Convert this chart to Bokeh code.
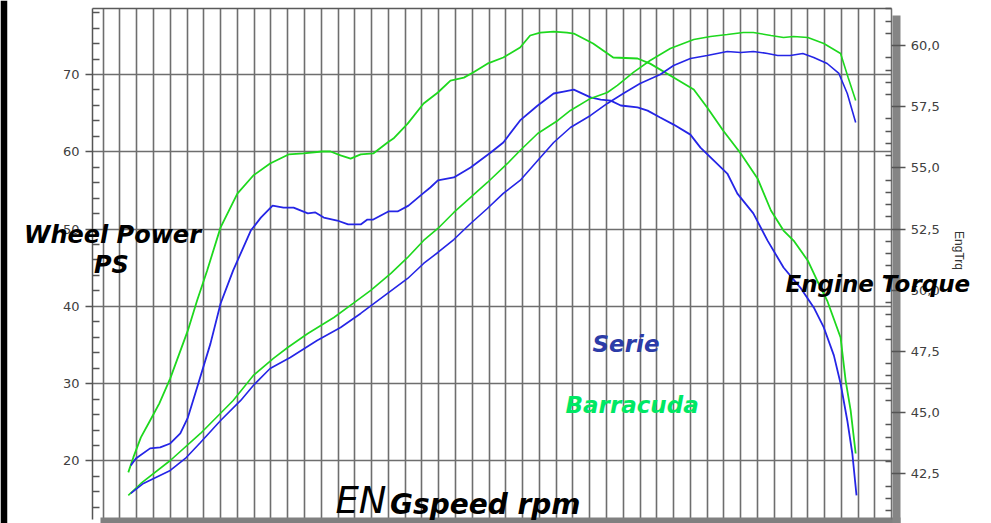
from bokeh.plotting import figure
from bokeh.models import (Range1d, LinearAxis, FixedTicker, Label,
                          CustomJSTickFormatter)
from bokeh.embed import file_html
from bokeh.resources import INLINE

# ---------------- data ----------------
# Engine torque, Barracuda (green) - right axis
trq_barr_rpm = [1700, 1760, 1850, 1960, 2070, 2200, 2410, 2520, 2640, 2800, 3000, 3190, 3390, 3610, 3790,
                4010, 4110, 4230, 4350, 4470, 4620, 4790, 4860, 5030, 5220, 5390, 5540, 5700, 5810, 5980,
                6170, 6370, 6490, 6610, 6770, 6930, 7010, 7240, 7360, 7480, 7770, 7920, 8200, 8440, 8600,
                8790, 9000, 9200, 9360, 9510, 9630, 9800, 9910, 10030, 10190, 10250, 10310, 10370]
trq_barr = [42.56, 43.17, 43.99, 44.68, 45.38, 46.40, 48.36, 49.58, 50.81, 52.57, 53.95, 54.69, 55.18, 55.55, 55.59,
            55.67, 55.67, 55.51, 55.38, 55.55, 55.59, 56.04, 56.20, 56.81, 57.63, 58.08, 58.57, 58.69, 58.90, 59.26,
            59.51, 59.92, 60.41, 60.53, 60.57, 60.53, 60.49, 60.08, 59.80, 59.51, 59.47, 59.26, 58.69, 58.20, 57.47,
            56.53, 55.59, 54.57, 53.26, 52.44, 52.03, 51.21, 50.40, 49.58, 48.07, 46.32, 45.09, 43.33]

# Engine torque, Serie (blue) - right axis
trq_serie_rpm = [1730, 1790, 1960, 2080, 2200, 2320, 2410, 2520, 2680, 2800, 2950, 3160, 3280, 3420, 3550,
                 3670, 3840, 3930, 4030, 4190, 4320, 4470, 4550, 4620, 4800, 4910, 5040, 5210, 5300, 5390,
                 5580, 5780, 6020, 6170, 6370, 6580, 6770, 6890, 7010, 7210, 7330, 7450, 7570, 7770, 7890,
                 8040, 8200, 8400, 8520, 8680, 8840, 8960, 9150, 9320, 9510, 9710, 9870, 9990, 10110, 10190,
                 10270, 10330, 10380]
trq_serie = [42.84, 43.13, 43.54, 43.58, 43.74, 44.15, 44.80, 46.03, 47.83, 49.46, 50.81, 52.44, 52.97, 53.46, 53.38,
             53.38, 53.14, 53.18, 52.97, 52.85, 52.69, 52.69, 52.89, 52.89, 53.22, 53.22, 53.46, 53.95, 54.20, 54.49,
             54.61, 55.02, 55.63, 56.04, 56.94, 57.55, 58.04, 58.12, 58.20, 57.88, 57.79, 57.75, 57.55, 57.47, 57.34,
             57.06, 56.77, 56.36, 55.83, 55.30, 54.77, 53.95, 53.14, 52.03, 50.93, 50.11, 49.30, 48.48, 47.34, 46.19,
             44.68, 43.33, 41.62]

# Wheel power, Barracuda (green) - left axis
pwr_barr_rpm = [1700, 1850, 2200, 2560, 2950, 3190, 3430, 3600, 3840, 4150, 4380, 4590, 4830, 5030, 5220,
                5390, 5580, 5780, 5980, 6220, 6370, 6580, 6820, 6970, 7210, 7410, 7530, 7720, 7920, 8160,
                8440, 8640, 8840, 9030, 9150, 9360, 9510, 9630, 9800, 9990, 10190, 10280, 10370]
pwr_barr = [15.54, 17.09, 20.06, 23.56, 27.83, 31.06, 33.26, 34.68, 36.49, 38.56, 40.38, 42.06, 44.26, 46.33, 48.53,
            50.08, 52.15, 54.09, 56.03, 58.49, 60.17, 62.37, 64.05, 65.34, 66.90, 67.67, 68.58, 70.26, 71.81, 73.36,
            74.53, 74.92, 75.17, 75.43, 75.43, 75.05, 74.79, 74.92, 74.79, 74.01, 72.72, 69.61, 66.64]

# Wheel power, Serie (blue) - left axis
pwr_serie_rpm = [1730, 1880, 2200, 2380, 2560, 2800, 3040, 3190, 3390, 3630, 3950, 4230, 4470, 4790, 5030,
                 5220, 5390, 5580, 5780, 5980, 6170, 6370, 6580, 6770, 6970, 7210, 7410, 7600, 7800, 8040,
                 8200, 8400, 8600, 8840, 9000, 9150, 9320, 9440, 9590, 9740, 9870, 10030, 10170, 10270, 10370]
pwr_serie = [15.80, 17.09, 18.77, 20.32, 22.39, 25.24, 27.83, 29.77, 31.97, 33.39, 35.59, 37.27, 39.08, 41.67, 43.61,
             45.55, 46.97, 48.65, 50.72, 52.66, 54.61, 56.29, 58.87, 61.20, 63.14, 64.70, 66.25, 67.54, 68.84, 70.00,
             71.16, 72.07, 72.46, 72.98, 72.85, 72.98, 72.72, 72.46, 72.46, 72.72, 72.20, 71.42, 70.13, 67.54, 63.79]

power_ticks = [20, 30, 40, 50, 60, 70]
power_minor = [14, 16, 18, 22, 24, 26, 28, 32, 34, 36, 38, 42, 44, 46, 48, 52, 54, 56, 58,
               62, 64, 66, 68, 72, 74, 76, 78]
torque_ticks = [42.5, 45.0, 47.5, 50.0, 52.5, 55.0, 57.5, 60.0]
torque_minor = [41.0, 41.5, 42.0, 43.0, 43.5, 44.0, 44.5, 45.5, 46.0, 46.5, 47.0, 48.0, 48.5, 49.0, 49.5,
                50.5, 51.0, 51.5, 52.0, 53.0, 53.5, 54.0, 54.5, 55.5, 56.0, 56.5, 57.0, 58.0, 58.5, 59.0,
                59.5, 60.5, 61.0, 61.5]
rpm_grid = list(range(1400, 10601, 200))

GREEN = "#1ed81e"
BLUE = "#2525e6"
FONT = "DejaVu Sans"

# chart box (axis limits)
RPM_MIN, RPM_MAX = 1273, 10800
PS_MIN, PS_MAX = 12.43, 78.54
NM_MIN, NM_MAX = 40.64, 61.51

# ---------------- figure ----------------
p = figure(width=991, height=523, output_backend="svg", toolbar_location=None,
           x_range=Range1d(260, 11989), y_range=Range1d(11.91, 79.57),
           min_border_left=7, min_border_right=0, min_border_top=0, min_border_bottom=0,
           background_fill_color="white", border_fill_color="black")
p.outline_line_color = None
p.extra_y_ranges = {"trq": Range1d(40.47, 61.84)}

# grids limited to the chart box
p.xgrid.ticker = FixedTicker(ticks=rpm_grid)
p.xgrid.cross_bounds = (PS_MIN, PS_MAX)
p.ygrid.ticker = FixedTicker(ticks=power_ticks)
p.ygrid.cross_bounds = (RPM_MIN, RPM_MAX)
for g in (p.xgrid, p.ygrid):
    g.grid_line_color = "#6e6e6e"
    g.grid_line_width = 1.6

# bottom rule (thick grey)
xa = p.xaxis[0]
xa.ticker = FixedTicker(ticks=[])
xa.fixed_location = 12.30
xa.bounds = (1368, 10904)
xa.axis_line_color = "#808080"
xa.axis_line_width = 6

# top rule
top = LinearAxis(ticker=FixedTicker(ticks=[]), fixed_location=PS_MAX, bounds=(RPM_MIN, RPM_MAX),
                 axis_line_color="#5a5a5a", axis_line_width=1.5)
p.add_layout(top, "above")

# left axis (power)
ya = p.yaxis[0]
ya.fixed_location = RPM_MIN
ya.bounds = (PS_MIN, PS_MAX)
ya.ticker = FixedTicker(ticks=power_ticks, minor_ticks=power_minor)
ya.major_tick_out = 7
ya.major_tick_in = 0
ya.minor_tick_in = 7
ya.minor_tick_out = 0
ya.major_tick_line_color = "#555555"
ya.minor_tick_line_color = "#555555"
ya.major_tick_line_width = 1.5
ya.minor_tick_line_width = 1.5
ya.axis_line_color = "#555555"
ya.axis_line_width = 1.5
ya.major_label_text_font = FONT
ya.major_label_text_font_size = "13px"
ya.major_label_text_color = "#404040"
ya.major_label_standoff = 6

# right grey shadow rule
shadow = LinearAxis(y_range_name="trq", ticker=FixedTicker(ticks=[]), fixed_location=10857,
                    bounds=(40.47, 61.23), axis_line_color="#858585", axis_line_width=8)
p.add_layout(shadow, "right")

# right axis (torque)
ra = LinearAxis(y_range_name="trq", fixed_location=RPM_MAX, bounds=(NM_MIN, NM_MAX),
                ticker=FixedTicker(ticks=torque_ticks, minor_ticks=torque_minor),
                formatter=CustomJSTickFormatter(code="return tick.toFixed(1).replace('.', ',');"))
ra.major_tick_out = 14
ra.major_tick_in = 0
ra.minor_tick_in = 6
ra.minor_tick_out = 0
ra.major_tick_line_color = "#555555"
ra.minor_tick_line_color = "#555555"
ra.major_tick_line_width = 1.5
ra.minor_tick_line_width = 1.5
ra.axis_line_color = "#707070"
ra.axis_line_width = 1.5
ra.major_label_text_font = FONT
ra.major_label_text_font_size = "13px"
ra.major_label_text_color = "#404040"
ra.major_label_standoff = 5
p.add_layout(ra, "right")

# curves
p.line(trq_barr_rpm, trq_barr, y_range_name="trq", line_color=GREEN, line_width=1.8)
p.line(trq_serie_rpm, trq_serie, y_range_name="trq", line_color=BLUE, line_width=1.8)
p.line(pwr_barr_rpm, pwr_barr, line_color=GREEN, line_width=1.6)
p.line(pwr_serie_rpm, pwr_serie, line_color=BLUE, line_width=1.6)

# texts
def lab(x, y, text, size, color="black", style="bold italic", align="left"):
    p.add_layout(Label(x=x, y=y, text=text, text_font=FONT, text_font_size=size,
                       text_font_style=style, text_color=color, text_align=align,
                       text_baseline="alphabetic"))

lab(1511, 49.26, "Wheel Power", "24px", align="center")
lab(1499, 45.38, "PS", "24px", align="center")
lab(9533, 42.85, "Engine Torque", "23px")
lab(7233, 35.12, "Serie", "23px", color="#2c3ca8")
lab(6911, 27.23, "Barracuda", "23px", color="#00e864")
lab(4169, 14.85, "EN", "37px", style="italic")
lab(4820, 14.40, "Gspeed rpm", "28px")
p.add_layout(Label(x=11596, y=47.23, text="EngTrq", text_font="Liberation Sans", text_font_size="12px",
                   text_color="#333333", angle=-1.5708, text_align="center",
                   text_baseline="middle"))

open("out.html", "w").write(file_html(p, INLINE))
